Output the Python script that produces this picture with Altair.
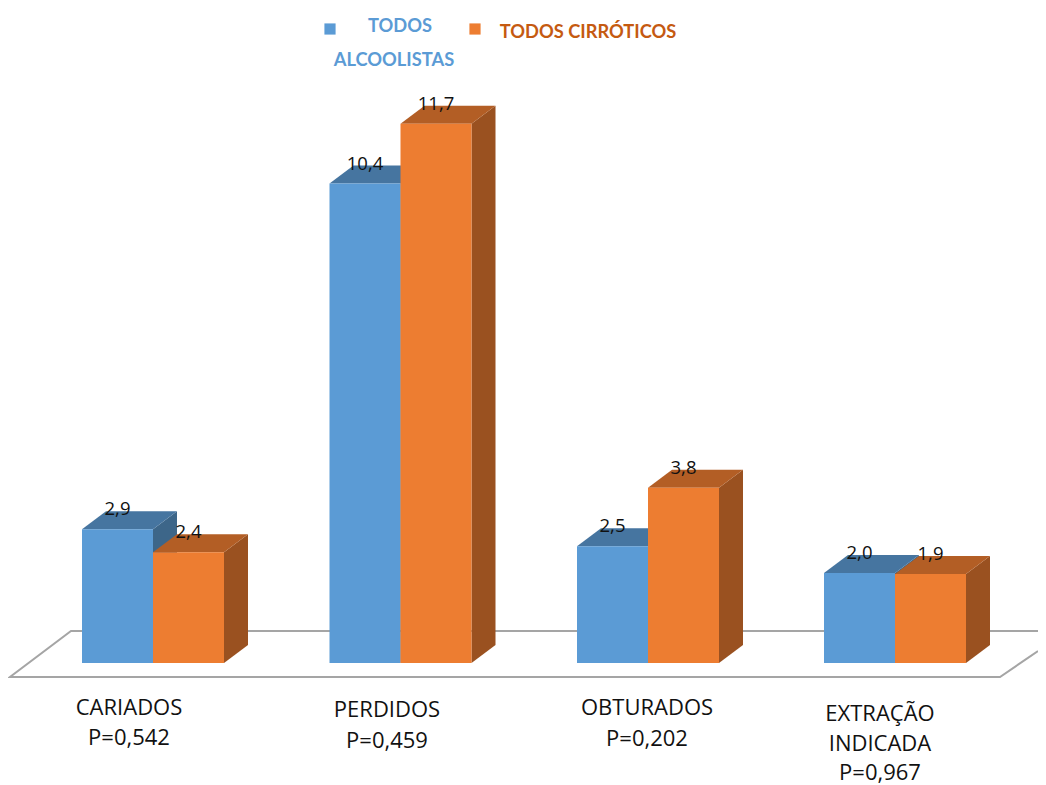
import altair as alt
import pandas as pd

categories = ["CARIADOS", "PERDIDOS", "OBTURADOS", "EXTRAÇÃO INDICADA"]
alcoolistas = [2.9, 10.4, 2.53, 1.95]
cirroticos = [2.4, 11.7, 3.8, 1.93]
value_labels_a = ["2,9", "10,4", "2,5", "2,0"]
value_labels_c = ["2,4", "11,7", "3,8", "1,9"]

# horizontal layout of the groups, in reference pixels
group_center = [153, 400.5, 648, 895]
BAR_W = 71
DEPTH_X = 24
PX_PER_UNIT = 46.1
BASE_PX = 663
def py(p):
    return (BASE_PX - p) / PX_PER_UNIT
DEPTH_Y = 18 / PX_PER_UNIT
LABEL_UP = 20 / PX_PER_UNIT

x_scale = alt.Scale(domain=[8, 1038], range=[0, 1030], nice=False, zero=False)
y_scale = alt.Scale(domain=[py(785), py(8)], range=[777, 0], nice=False, zero=False)
X = lambda f="x": alt.X(f"{f}:Q", scale=x_scale, axis=None)
Y = lambda f="y": alt.Y(f"{f}:Q", scale=y_scale, axis=None)


def series_layers(values, labels, offset, front, top, side):
    fronts, sides, tops, texts = [], [], [], []
    for i, (v, lab) in enumerate(zip(values, labels)):
        left = group_center[i] + offset
        right = left + BAR_W
        fronts.append(dict(x=left, x2=right, y=v, y2=0))
        sides += [
            dict(g=i, x=right, y=0, y2=v),
            dict(g=i, x=right + DEPTH_X, y=DEPTH_Y, y2=v + DEPTH_Y),
        ]
        tops += [
            dict(g=i, y=v, x=left, x2=right),
            dict(g=i, y=v + DEPTH_Y, x=left + DEPTH_X, x2=right + DEPTH_X),
        ]
        texts.append(dict(x=left + BAR_W / 2, y=v + LABEL_UP, t=lab))
    side_c = alt.Chart(pd.DataFrame(sides)).mark_area(color=side, orient="vertical").encode(
        x=X(), y=Y(), y2="y2:Q", detail="g:N")
    top_c = alt.Chart(pd.DataFrame(tops)).mark_area(color=top, orient="horizontal").encode(
        y=Y(), x=X(), x2="x2:Q", detail="g:N")
    front_c = alt.Chart(pd.DataFrame(fronts)).mark_rect(color=front).encode(
        x=X(), x2="x2:Q", y=Y(), y2="y2:Q")
    return [side_c, top_c, front_c], texts


# floor outline
floor_x = [1038, 71, 10, 1000, 1038]
floor_y = [631, 631, 677, 677, 651]
floor = alt.Chart(pd.DataFrame({
    "x": floor_x, "y": [py(p) for p in floor_y], "o": range(len(floor_x))
})).mark_line(color="#A5A5A5", strokeWidth=2).encode(x=X(), y=Y(), order="o:Q")

a_layers, a_text = series_layers(alcoolistas, value_labels_a, -BAR_W, "#5B9BD5", "#4675A0", "#3D6689")
c_layers, c_text = series_layers(cirroticos, value_labels_c, 0, "#ED7D31", "#B35E25", "#9A5120")

value_text = alt.Chart(pd.DataFrame(a_text + c_text)).mark_text(
    font="Open Sans", fontSize=18.5, color="#111111", align="center", baseline="middle"
).encode(x=X(), y=Y(), text="t:N")

# category captions
cat_lines = [
    ("CARIADOS", 129, 708), ("P=0,542", 129, 738),
    ("PERDIDOS", 387, 710), ("P=0,459", 387, 741),
    ("OBTURADOS", 647, 708), ("P=0,202", 647, 739),
    ("EXTRAÇÃO", 880, 714), ("INDICADA", 880, 744), ("P=0,967", 880, 773),
]
cat_text = alt.Chart(pd.DataFrame(
    [dict(t=t, x=x, y=py(p)) for t, x, p in cat_lines]
)).mark_text(font="Open Sans", fontSize=22, color="#111111", align="center", baseline="middle").encode(
    x=X(), y=Y(), text="t:N")

# legend
legend_rows = [("TODOS", 400, 27, "#5B9BD5"), ("ALCOOLISTAS", 394, 61, "#5B9BD5"),
               ("TODOS CIRRÓTICOS", 588, 33, "#C55A11")]
legend_text = alt.Chart(pd.DataFrame(
    [dict(t=t, x=x, y=py(p), c=c) for t, x, p, c in legend_rows]
)).mark_text(font="Lato", fontWeight="bold", fontSize=18.3, align="center", baseline="middle").encode(
    x=X(), y=Y(), text="t:N", color=alt.Color("c:N", scale=None))
legend_marks = alt.Chart(pd.DataFrame(
    [dict(x=330, y=py(29), c="#5B9BD5"), dict(x=475, y=py(29), c="#ED7D31")]
)).mark_point(shape="square", filled=True, size=125, opacity=1).encode(
    x=X(), y=Y(), color=alt.Color("c:N", scale=None))

chart = alt.layer(
    floor, *a_layers, *c_layers, value_text, cat_text, legend_text, legend_marks
).properties(
    width=1030, height=777, padding=0, background="white",
    autosize=alt.AutoSizeParams(type="none")
).configure_view(stroke=None)

chart.save("out.html", embed_options={"renderer": "svg", "actions": False})
